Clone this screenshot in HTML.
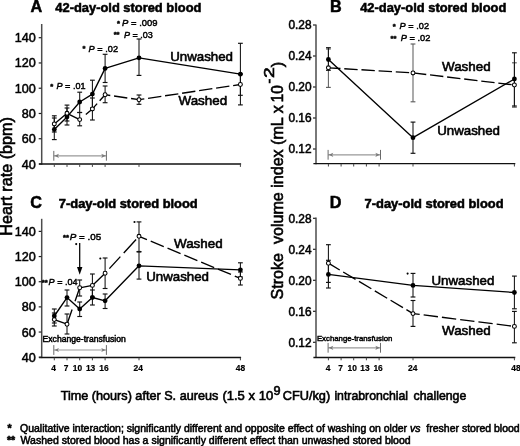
<!DOCTYPE html>
<html><head><meta charset="utf-8"><title>Figure</title>
<style>
html,body{margin:0;padding:0;background:#fff;}
body{width:520px;height:446px;overflow:hidden;}
svg{display:block;font-family:"Liberation Sans", sans-serif;filter:grayscale(1);}
svg text{white-space:pre;}
</style></head><body>
<svg width="520" height="446" viewBox="0 0 520 446">
<rect width="520" height="446" fill="#fff"/>
<line x1="41.70" y1="24.00" x2="41.70" y2="164.70" stroke="#4d4d4d" stroke-width="1.5" /><line x1="39.10" y1="164.00" x2="241.10" y2="164.00" stroke="#111" stroke-width="1.45" /><line x1="38.70" y1="164.00" x2="41.40" y2="164.00" stroke="#222" stroke-width="1.2" /><text x="35.80" y="168.53" font-size="12.6" text-anchor="end" font-weight="normal" font-style="normal" fill="#000" stroke="#000" stroke-width="0.5" >40</text><line x1="38.70" y1="138.74" x2="41.40" y2="138.74" stroke="#222" stroke-width="1.2" /><text x="35.80" y="143.27" font-size="12.6" text-anchor="end" font-weight="normal" font-style="normal" fill="#000" stroke="#000" stroke-width="0.5" >60</text><line x1="38.70" y1="113.48" x2="41.40" y2="113.48" stroke="#222" stroke-width="1.2" /><text x="35.80" y="118.01" font-size="12.6" text-anchor="end" font-weight="normal" font-style="normal" fill="#000" stroke="#000" stroke-width="0.5" >80</text><line x1="38.70" y1="88.22" x2="41.40" y2="88.22" stroke="#222" stroke-width="1.2" /><text x="35.80" y="92.75" font-size="12.6" text-anchor="end" font-weight="normal" font-style="normal" fill="#000" stroke="#000" stroke-width="0.5" >100</text><line x1="38.70" y1="62.96" x2="41.40" y2="62.96" stroke="#222" stroke-width="1.2" /><text x="35.80" y="67.49" font-size="12.6" text-anchor="end" font-weight="normal" font-style="normal" fill="#000" stroke="#000" stroke-width="0.5" >120</text><line x1="38.70" y1="37.70" x2="41.40" y2="37.70" stroke="#222" stroke-width="1.2" /><text x="35.80" y="42.23" font-size="12.6" text-anchor="end" font-weight="normal" font-style="normal" fill="#000" stroke="#000" stroke-width="0.5" >140</text><line x1="54.30" y1="164.30" x2="54.30" y2="166.90" stroke="#444" stroke-width="1.0" /><line x1="67.00" y1="164.30" x2="67.00" y2="166.90" stroke="#444" stroke-width="1.0" /><line x1="79.70" y1="164.30" x2="79.70" y2="166.90" stroke="#444" stroke-width="1.0" /><line x1="92.40" y1="164.30" x2="92.40" y2="166.90" stroke="#444" stroke-width="1.0" /><line x1="105.10" y1="164.30" x2="105.10" y2="166.90" stroke="#444" stroke-width="1.0" /><line x1="139.00" y1="164.30" x2="139.00" y2="166.90" stroke="#444" stroke-width="1.0" /><line x1="240.40" y1="164.30" x2="240.40" y2="166.90" stroke="#444" stroke-width="1.0" />
<line x1="54.30" y1="115.80" x2="54.30" y2="132.00" stroke="#111" stroke-width="1.05" /><line x1="51.90" y1="115.80" x2="56.70" y2="115.80" stroke="#111" stroke-width="1.1500000000000001" /><line x1="51.90" y1="132.00" x2="56.70" y2="132.00" stroke="#111" stroke-width="1.1500000000000001" /><line x1="67.00" y1="105.10" x2="67.00" y2="121.00" stroke="#111" stroke-width="1.05" /><line x1="64.60" y1="105.10" x2="69.40" y2="105.10" stroke="#111" stroke-width="1.1500000000000001" /><line x1="64.60" y1="121.00" x2="69.40" y2="121.00" stroke="#111" stroke-width="1.1500000000000001" /><line x1="79.70" y1="112.50" x2="79.70" y2="125.80" stroke="#111" stroke-width="1.05" /><line x1="77.30" y1="112.50" x2="82.10" y2="112.50" stroke="#111" stroke-width="1.1500000000000001" /><line x1="77.30" y1="125.80" x2="82.10" y2="125.80" stroke="#111" stroke-width="1.1500000000000001" /><line x1="92.40" y1="98.00" x2="92.40" y2="120.00" stroke="#111" stroke-width="1.05" /><line x1="90.00" y1="98.00" x2="94.80" y2="98.00" stroke="#111" stroke-width="1.1500000000000001" /><line x1="90.00" y1="120.00" x2="94.80" y2="120.00" stroke="#111" stroke-width="1.1500000000000001" /><line x1="105.10" y1="86.00" x2="105.10" y2="102.70" stroke="#111" stroke-width="1.05" /><line x1="102.70" y1="86.00" x2="107.50" y2="86.00" stroke="#111" stroke-width="1.1500000000000001" /><line x1="102.70" y1="102.70" x2="107.50" y2="102.70" stroke="#111" stroke-width="1.1500000000000001" /><line x1="139.00" y1="95.00" x2="139.00" y2="104.30" stroke="#111" stroke-width="1.05" /><line x1="136.60" y1="95.00" x2="141.40" y2="95.00" stroke="#111" stroke-width="1.1500000000000001" /><line x1="136.60" y1="104.30" x2="141.40" y2="104.30" stroke="#111" stroke-width="1.1500000000000001" /><line x1="240.40" y1="73.70" x2="240.40" y2="95.30" stroke="#111" stroke-width="1.05" /><line x1="238.00" y1="73.70" x2="242.80" y2="73.70" stroke="#111" stroke-width="1.1500000000000001" /><line x1="238.00" y1="95.30" x2="242.80" y2="95.30" stroke="#111" stroke-width="1.1500000000000001" /><line x1="54.30" y1="118.00" x2="54.30" y2="139.60" stroke="#111" stroke-width="1.05" /><line x1="51.90" y1="118.00" x2="56.70" y2="118.00" stroke="#111" stroke-width="1.1500000000000001" /><line x1="51.90" y1="139.60" x2="56.70" y2="139.60" stroke="#111" stroke-width="1.1500000000000001" /><line x1="67.00" y1="108.00" x2="67.00" y2="125.00" stroke="#111" stroke-width="1.05" /><line x1="64.60" y1="108.00" x2="69.40" y2="108.00" stroke="#111" stroke-width="1.1500000000000001" /><line x1="64.60" y1="125.00" x2="69.40" y2="125.00" stroke="#111" stroke-width="1.1500000000000001" /><line x1="79.70" y1="92.20" x2="79.70" y2="112.50" stroke="#111" stroke-width="1.05" /><line x1="77.30" y1="92.20" x2="82.10" y2="92.20" stroke="#111" stroke-width="1.1500000000000001" /><line x1="77.30" y1="112.50" x2="82.10" y2="112.50" stroke="#111" stroke-width="1.1500000000000001" /><line x1="92.40" y1="80.20" x2="92.40" y2="108.00" stroke="#111" stroke-width="1.05" /><line x1="90.00" y1="80.20" x2="94.80" y2="80.20" stroke="#111" stroke-width="1.1500000000000001" /><line x1="90.00" y1="108.00" x2="94.80" y2="108.00" stroke="#111" stroke-width="1.1500000000000001" /><line x1="105.10" y1="54.30" x2="105.10" y2="82.50" stroke="#111" stroke-width="1.05" /><line x1="102.70" y1="54.30" x2="107.50" y2="54.30" stroke="#111" stroke-width="1.1500000000000001" /><line x1="102.70" y1="82.50" x2="107.50" y2="82.50" stroke="#111" stroke-width="1.1500000000000001" /><line x1="139.00" y1="39.00" x2="139.00" y2="75.40" stroke="#111" stroke-width="1.05" /><line x1="136.60" y1="39.00" x2="141.40" y2="39.00" stroke="#111" stroke-width="1.1500000000000001" /><line x1="136.60" y1="75.40" x2="141.40" y2="75.40" stroke="#111" stroke-width="1.1500000000000001" /><line x1="240.40" y1="43.30" x2="240.40" y2="104.90" stroke="#111" stroke-width="1.05" /><line x1="238.00" y1="43.30" x2="242.80" y2="43.30" stroke="#111" stroke-width="1.1500000000000001" /><line x1="238.00" y1="104.90" x2="242.80" y2="104.90" stroke="#111" stroke-width="1.1500000000000001" /><polyline points="54.30,129.40 67.00,116.90 79.70,102.00 92.40,94.10 105.10,68.40 139.00,57.80 240.40,74.20" fill="none" stroke="#000" stroke-width="1.35" stroke-linejoin="round"/><polyline points="54.30,123.90 67.00,113.30 79.70,119.60" fill="none" stroke="#000" stroke-width="1.35" stroke-linejoin="round"/><polyline points="79.70,119.60 92.40,108.90 105.10,94.70 139.00,99.70 240.40,84.50" fill="none" stroke="#000" stroke-width="1.35" stroke-linejoin="round" stroke-dasharray="0 8 15.7 3.8 13.4 3.8 13.4 3.8 13.4 3.8 13.4 3.8 13.4 3.8 13.4 3.8 13.4 3.8 13.4 3.8 13.4 3.8 13.4 3.8 13.4 3.8 13.4 3.8"/><circle cx="54.30" cy="129.40" r="2.4" fill="#000"/><circle cx="67.00" cy="116.90" r="2.4" fill="#000"/><circle cx="79.70" cy="102.00" r="2.4" fill="#000"/><circle cx="92.40" cy="94.10" r="2.4" fill="#000"/><circle cx="105.10" cy="68.40" r="2.4" fill="#000"/><circle cx="139.00" cy="57.80" r="2.4" fill="#000"/><circle cx="240.40" cy="74.20" r="2.4" fill="#000"/><circle cx="54.30" cy="123.90" r="1.95" fill="#fff" stroke="#000" stroke-width="1.05"/><circle cx="67.00" cy="113.30" r="1.95" fill="#fff" stroke="#000" stroke-width="1.05"/><circle cx="79.70" cy="119.60" r="1.95" fill="#fff" stroke="#000" stroke-width="1.05"/><circle cx="92.40" cy="108.90" r="1.95" fill="#fff" stroke="#000" stroke-width="1.05"/><circle cx="105.10" cy="94.70" r="1.95" fill="#fff" stroke="#000" stroke-width="1.05"/><circle cx="139.00" cy="99.70" r="1.95" fill="#fff" stroke="#000" stroke-width="1.05"/><circle cx="240.40" cy="84.50" r="1.95" fill="#fff" stroke="#000" stroke-width="1.05"/>
<line x1="53.80" y1="155.80" x2="106.40" y2="155.80" stroke="#999" stroke-width="1.15" /><line x1="53.80" y1="150.90" x2="53.80" y2="160.70" stroke="#6a6a6a" stroke-width="1.0" /><line x1="106.40" y1="150.90" x2="106.40" y2="160.70" stroke="#6a6a6a" stroke-width="1.0" /><polygon points="54.40,155.80 59.00,153.70 57.80,155.80 59.00,157.90" fill="#7a7a7a"/><polygon points="105.80,155.80 101.20,153.70 102.40,155.80 101.20,157.90" fill="#7a7a7a"/>
<text x="30.60" y="12.10" font-size="16.2" text-anchor="start" font-weight="bold" font-style="normal" fill="#000" stroke="#000" stroke-width="0.5" >A</text>
<text x="55.30" y="12.30" font-size="12.9" text-anchor="start" font-weight="bold" font-style="normal" fill="#000" stroke="#000" stroke-width="0.55" >42-day-old stored blood</text>
<text x="170.20" y="61.00" font-size="13.3" text-anchor="start" font-weight="normal" font-style="normal" fill="#000" stroke="#000" stroke-width="0.6" >Unwashed</text>
<text x="178.50" y="104.80" font-size="13.4" text-anchor="start" font-weight="normal" font-style="normal" fill="#000" stroke="#000" stroke-width="0.6" >Washed</text>
<text x="50.20" y="89.00" font-size="7.6" font-weight="bold" fill="#000" stroke="#000" stroke-width="0.45">*</text><text x="56.50" y="89.30" font-size="9.4" fill="#000" stroke="#000" stroke-width="0.45" textLength="29.00" lengthAdjust="spacingAndGlyphs"><tspan font-style="italic">P</tspan> = .01</text>
<text x="82.40" y="51.20" font-size="7.6" font-weight="bold" fill="#000" stroke="#000" stroke-width="0.45">*</text><text x="88.60" y="51.50" font-size="9.4" fill="#000" stroke="#000" stroke-width="0.45" textLength="29.40" lengthAdjust="spacingAndGlyphs"><tspan font-style="italic">P</tspan> = .02</text>
<text x="117.10" y="25.80" font-size="7.6" font-weight="bold" fill="#000" stroke="#000" stroke-width="0.45">*</text><text x="122.10" y="26.10" font-size="9.4" fill="#000" stroke="#000" stroke-width="0.45" textLength="35.40" lengthAdjust="spacingAndGlyphs"><tspan font-style="italic">P</tspan> = .009</text>
<text x="113.65" y="37.35" font-size="7.6" font-weight="bold" fill="#000" stroke="#000" stroke-width="0.45">**</text><text x="124.00" y="37.65" font-size="9.4" fill="#000" stroke="#000" stroke-width="0.45" textLength="28.90" lengthAdjust="spacingAndGlyphs"><tspan font-style="italic">P</tspan> = .03</text>
<line x1="316.00" y1="24.40" x2="316.00" y2="164.30" stroke="#4d4d4d" stroke-width="1.5" /><line x1="313.40" y1="163.60" x2="515.30" y2="163.60" stroke="#111" stroke-width="1.45" /><line x1="313.00" y1="149.00" x2="315.70" y2="149.00" stroke="#222" stroke-width="1.2" /><text x="311.60" y="153.28" font-size="11.9" text-anchor="end" font-weight="normal" font-style="normal" fill="#000" stroke="#000" stroke-width="0.5" >0.12</text><line x1="313.00" y1="118.00" x2="315.70" y2="118.00" stroke="#222" stroke-width="1.2" /><text x="311.60" y="122.28" font-size="11.9" text-anchor="end" font-weight="normal" font-style="normal" fill="#000" stroke="#000" stroke-width="0.5" >0.16</text><line x1="313.00" y1="87.00" x2="315.70" y2="87.00" stroke="#222" stroke-width="1.2" /><text x="311.60" y="91.28" font-size="11.9" text-anchor="end" font-weight="normal" font-style="normal" fill="#000" stroke="#000" stroke-width="0.5" >0.20</text><line x1="313.00" y1="56.00" x2="315.70" y2="56.00" stroke="#222" stroke-width="1.2" /><text x="311.60" y="60.28" font-size="11.9" text-anchor="end" font-weight="normal" font-style="normal" fill="#000" stroke="#000" stroke-width="0.5" >0.24</text><line x1="313.00" y1="25.00" x2="315.70" y2="25.00" stroke="#222" stroke-width="1.2" /><text x="311.60" y="29.28" font-size="11.9" text-anchor="end" font-weight="normal" font-style="normal" fill="#000" stroke="#000" stroke-width="0.5" >0.28</text><line x1="328.40" y1="163.90" x2="328.40" y2="166.50" stroke="#444" stroke-width="1.0" /><line x1="341.10" y1="163.90" x2="341.10" y2="166.50" stroke="#444" stroke-width="1.0" /><line x1="353.70" y1="163.90" x2="353.70" y2="166.50" stroke="#444" stroke-width="1.0" /><line x1="366.40" y1="163.90" x2="366.40" y2="166.50" stroke="#444" stroke-width="1.0" /><line x1="379.10" y1="163.90" x2="379.10" y2="166.50" stroke="#444" stroke-width="1.0" /><line x1="413.00" y1="163.90" x2="413.00" y2="166.50" stroke="#444" stroke-width="1.0" /><line x1="514.40" y1="163.90" x2="514.40" y2="166.50" stroke="#444" stroke-width="1.0" />
<line x1="328.40" y1="49.00" x2="328.40" y2="87.40" stroke="#5e5e5e" stroke-width="1.05" /><line x1="326.00" y1="49.00" x2="330.80" y2="49.00" stroke="#5e5e5e" stroke-width="1.1500000000000001" /><line x1="326.00" y1="87.40" x2="330.80" y2="87.40" stroke="#5e5e5e" stroke-width="1.1500000000000001" /><line x1="413.00" y1="44.00" x2="413.00" y2="101.80" stroke="#5e5e5e" stroke-width="1.05" /><line x1="410.60" y1="44.00" x2="415.40" y2="44.00" stroke="#5e5e5e" stroke-width="1.1500000000000001" /><line x1="410.60" y1="101.80" x2="415.40" y2="101.80" stroke="#5e5e5e" stroke-width="1.1500000000000001" /><line x1="514.40" y1="62.80" x2="514.40" y2="107.20" stroke="#5e5e5e" stroke-width="1.05" /><line x1="512.00" y1="62.80" x2="516.80" y2="62.80" stroke="#5e5e5e" stroke-width="1.1500000000000001" /><line x1="512.00" y1="107.20" x2="516.80" y2="107.20" stroke="#5e5e5e" stroke-width="1.1500000000000001" /><line x1="328.40" y1="47.70" x2="328.40" y2="70.30" stroke="#111" stroke-width="1.05" /><line x1="326.00" y1="47.70" x2="330.80" y2="47.70" stroke="#111" stroke-width="1.1500000000000001" /><line x1="326.00" y1="70.30" x2="330.80" y2="70.30" stroke="#111" stroke-width="1.1500000000000001" /><line x1="413.00" y1="122.10" x2="413.00" y2="153.30" stroke="#111" stroke-width="1.05" /><line x1="410.60" y1="122.10" x2="415.40" y2="122.10" stroke="#111" stroke-width="1.1500000000000001" /><line x1="410.60" y1="153.30" x2="415.40" y2="153.30" stroke="#111" stroke-width="1.1500000000000001" /><line x1="514.40" y1="52.80" x2="514.40" y2="106.00" stroke="#111" stroke-width="1.05" /><line x1="512.00" y1="52.80" x2="516.80" y2="52.80" stroke="#111" stroke-width="1.1500000000000001" /><line x1="512.00" y1="106.00" x2="516.80" y2="106.00" stroke="#111" stroke-width="1.1500000000000001" /><polyline points="328.40,59.50 413.00,137.70 514.40,79.00" fill="none" stroke="#000" stroke-width="1.35" stroke-linejoin="round"/><polyline points="328.40,67.80 413.00,72.90 514.40,85.00" fill="none" stroke="#000" stroke-width="1.35" stroke-linejoin="round" stroke-dasharray="13.4 3.8" stroke-dashoffset="1.3"/><circle cx="328.40" cy="59.50" r="2.4" fill="#000"/><circle cx="413.00" cy="137.70" r="2.4" fill="#000"/><circle cx="514.40" cy="79.00" r="2.4" fill="#000"/><circle cx="328.40" cy="67.80" r="1.95" fill="#fff" stroke="#000" stroke-width="1.05"/><circle cx="413.00" cy="72.90" r="1.95" fill="#fff" stroke="#000" stroke-width="1.05"/><circle cx="514.40" cy="85.00" r="1.95" fill="#fff" stroke="#000" stroke-width="1.05"/>
<line x1="328.10" y1="154.80" x2="380.50" y2="154.80" stroke="#999" stroke-width="1.15" /><line x1="328.10" y1="149.90" x2="328.10" y2="159.70" stroke="#6a6a6a" stroke-width="1.0" /><line x1="380.50" y1="149.90" x2="380.50" y2="159.70" stroke="#6a6a6a" stroke-width="1.0" /><polygon points="328.70,154.80 333.30,152.70 332.10,154.80 333.30,156.90" fill="#7a7a7a"/><polygon points="379.90,154.80 375.30,152.70 376.50,154.80 375.30,156.90" fill="#7a7a7a"/>
<text x="330.00" y="12.10" font-size="16.2" text-anchor="start" font-weight="bold" font-style="normal" fill="#000" stroke="#000" stroke-width="0.5" >B</text>
<text x="360.20" y="12.30" font-size="12.9" text-anchor="start" font-weight="bold" font-style="normal" fill="#000" stroke="#000" stroke-width="0.55" >42-day-old stored blood</text>
<text x="442.00" y="71.00" font-size="13.4" text-anchor="start" font-weight="normal" font-style="normal" fill="#000" stroke="#000" stroke-width="0.6" >Washed</text>
<text x="437.20" y="134.70" font-size="13.3" text-anchor="start" font-weight="normal" font-style="normal" fill="#000" stroke="#000" stroke-width="0.6" >Unwashed</text>
<text x="392.70" y="28.70" font-size="7.6" font-weight="bold" fill="#000" stroke="#000" stroke-width="0.45">*</text><text x="399.60" y="29.00" font-size="9.4" fill="#000" stroke="#000" stroke-width="0.45" textLength="29.40" lengthAdjust="spacingAndGlyphs"><tspan font-style="italic">P</tspan> = .02</text>
<text x="390.60" y="40.80" font-size="7.6" font-weight="bold" fill="#000" stroke="#000" stroke-width="0.45">**</text><text x="400.80" y="41.10" font-size="9.4" fill="#000" stroke="#000" stroke-width="0.45" textLength="29.60" lengthAdjust="spacingAndGlyphs"><tspan font-style="italic">P</tspan> = .02</text>
<line x1="41.70" y1="218.80" x2="41.70" y2="358.10" stroke="#4d4d4d" stroke-width="1.5" /><line x1="39.10" y1="357.40" x2="241.10" y2="357.40" stroke="#111" stroke-width="1.45" /><line x1="38.70" y1="357.20" x2="41.40" y2="357.20" stroke="#222" stroke-width="1.2" /><text x="35.80" y="361.73" font-size="12.6" text-anchor="end" font-weight="normal" font-style="normal" fill="#000" stroke="#000" stroke-width="0.5" >40</text><line x1="38.70" y1="332.04" x2="41.40" y2="332.04" stroke="#222" stroke-width="1.2" /><text x="35.80" y="336.57" font-size="12.6" text-anchor="end" font-weight="normal" font-style="normal" fill="#000" stroke="#000" stroke-width="0.5" >60</text><line x1="38.70" y1="306.88" x2="41.40" y2="306.88" stroke="#222" stroke-width="1.2" /><text x="35.80" y="311.41" font-size="12.6" text-anchor="end" font-weight="normal" font-style="normal" fill="#000" stroke="#000" stroke-width="0.5" >80</text><line x1="38.70" y1="281.72" x2="41.40" y2="281.72" stroke="#222" stroke-width="1.2" /><text x="35.80" y="286.25" font-size="12.6" text-anchor="end" font-weight="normal" font-style="normal" fill="#000" stroke="#000" stroke-width="0.5" >100</text><line x1="38.70" y1="256.56" x2="41.40" y2="256.56" stroke="#222" stroke-width="1.2" /><text x="35.80" y="261.09" font-size="12.6" text-anchor="end" font-weight="normal" font-style="normal" fill="#000" stroke="#000" stroke-width="0.5" >120</text><line x1="38.70" y1="231.40" x2="41.40" y2="231.40" stroke="#222" stroke-width="1.2" /><text x="35.80" y="235.93" font-size="12.6" text-anchor="end" font-weight="normal" font-style="normal" fill="#000" stroke="#000" stroke-width="0.5" >140</text><line x1="54.30" y1="357.70" x2="54.30" y2="360.30" stroke="#444" stroke-width="1.0" /><line x1="67.00" y1="357.70" x2="67.00" y2="360.30" stroke="#444" stroke-width="1.0" /><line x1="79.70" y1="357.70" x2="79.70" y2="360.30" stroke="#444" stroke-width="1.0" /><line x1="92.40" y1="357.70" x2="92.40" y2="360.30" stroke="#444" stroke-width="1.0" /><line x1="105.10" y1="357.70" x2="105.10" y2="360.30" stroke="#444" stroke-width="1.0" /><line x1="139.00" y1="357.70" x2="139.00" y2="360.30" stroke="#444" stroke-width="1.0" /><line x1="240.40" y1="357.70" x2="240.40" y2="360.30" stroke="#444" stroke-width="1.0" />
<line x1="54.30" y1="313.00" x2="54.30" y2="326.00" stroke="#111" stroke-width="1.05" /><line x1="51.90" y1="313.00" x2="56.70" y2="313.00" stroke="#111" stroke-width="1.1500000000000001" /><line x1="51.90" y1="326.00" x2="56.70" y2="326.00" stroke="#111" stroke-width="1.1500000000000001" /><line x1="67.00" y1="314.00" x2="67.00" y2="334.00" stroke="#111" stroke-width="1.05" /><line x1="64.60" y1="314.00" x2="69.40" y2="314.00" stroke="#111" stroke-width="1.1500000000000001" /><line x1="64.60" y1="334.00" x2="69.40" y2="334.00" stroke="#111" stroke-width="1.1500000000000001" /><line x1="79.70" y1="280.00" x2="79.70" y2="296.00" stroke="#111" stroke-width="1.05" /><line x1="77.30" y1="280.00" x2="82.10" y2="280.00" stroke="#111" stroke-width="1.1500000000000001" /><line x1="77.30" y1="296.00" x2="82.10" y2="296.00" stroke="#111" stroke-width="1.1500000000000001" /><line x1="92.40" y1="274.00" x2="92.40" y2="297.00" stroke="#111" stroke-width="1.05" /><line x1="90.00" y1="274.00" x2="94.80" y2="274.00" stroke="#111" stroke-width="1.1500000000000001" /><line x1="90.00" y1="297.00" x2="94.80" y2="297.00" stroke="#111" stroke-width="1.1500000000000001" /><line x1="105.10" y1="258.00" x2="105.10" y2="288.50" stroke="#111" stroke-width="1.05" /><line x1="102.70" y1="258.00" x2="107.50" y2="258.00" stroke="#111" stroke-width="1.1500000000000001" /><line x1="102.70" y1="288.50" x2="107.50" y2="288.50" stroke="#111" stroke-width="1.1500000000000001" /><line x1="139.00" y1="221.90" x2="139.00" y2="251.50" stroke="#111" stroke-width="1.05" /><line x1="136.60" y1="221.90" x2="141.40" y2="221.90" stroke="#111" stroke-width="1.1500000000000001" /><line x1="136.60" y1="251.50" x2="141.40" y2="251.50" stroke="#111" stroke-width="1.1500000000000001" /><line x1="240.40" y1="272.00" x2="240.40" y2="285.00" stroke="#111" stroke-width="1.05" /><line x1="238.00" y1="272.00" x2="242.80" y2="272.00" stroke="#111" stroke-width="1.1500000000000001" /><line x1="238.00" y1="285.00" x2="242.80" y2="285.00" stroke="#111" stroke-width="1.1500000000000001" /><line x1="54.30" y1="309.00" x2="54.30" y2="323.00" stroke="#111" stroke-width="1.05" /><line x1="51.90" y1="309.00" x2="56.70" y2="309.00" stroke="#111" stroke-width="1.1500000000000001" /><line x1="51.90" y1="323.00" x2="56.70" y2="323.00" stroke="#111" stroke-width="1.1500000000000001" /><line x1="67.00" y1="290.00" x2="67.00" y2="306.00" stroke="#111" stroke-width="1.05" /><line x1="64.60" y1="290.00" x2="69.40" y2="290.00" stroke="#111" stroke-width="1.1500000000000001" /><line x1="64.60" y1="306.00" x2="69.40" y2="306.00" stroke="#111" stroke-width="1.1500000000000001" /><line x1="79.70" y1="302.00" x2="79.70" y2="316.50" stroke="#111" stroke-width="1.05" /><line x1="77.30" y1="302.00" x2="82.10" y2="302.00" stroke="#111" stroke-width="1.1500000000000001" /><line x1="77.30" y1="316.50" x2="82.10" y2="316.50" stroke="#111" stroke-width="1.1500000000000001" /><line x1="92.40" y1="290.00" x2="92.40" y2="305.00" stroke="#111" stroke-width="1.05" /><line x1="90.00" y1="290.00" x2="94.80" y2="290.00" stroke="#111" stroke-width="1.1500000000000001" /><line x1="90.00" y1="305.00" x2="94.80" y2="305.00" stroke="#111" stroke-width="1.1500000000000001" /><line x1="105.10" y1="294.00" x2="105.10" y2="308.50" stroke="#111" stroke-width="1.05" /><line x1="102.70" y1="294.00" x2="107.50" y2="294.00" stroke="#111" stroke-width="1.1500000000000001" /><line x1="102.70" y1="308.50" x2="107.50" y2="308.50" stroke="#111" stroke-width="1.1500000000000001" /><line x1="139.00" y1="252.00" x2="139.00" y2="279.10" stroke="#111" stroke-width="1.05" /><line x1="136.60" y1="252.00" x2="141.40" y2="252.00" stroke="#111" stroke-width="1.1500000000000001" /><line x1="136.60" y1="279.10" x2="141.40" y2="279.10" stroke="#111" stroke-width="1.1500000000000001" /><line x1="240.40" y1="262.80" x2="240.40" y2="277.00" stroke="#111" stroke-width="1.05" /><line x1="238.00" y1="262.80" x2="242.80" y2="262.80" stroke="#111" stroke-width="1.1500000000000001" /><line x1="238.00" y1="277.00" x2="242.80" y2="277.00" stroke="#111" stroke-width="1.1500000000000001" /><polyline points="54.30,316.00 67.00,297.60 79.70,309.00 92.40,297.50 105.10,300.80 139.00,265.80 240.40,269.80" fill="none" stroke="#000" stroke-width="1.35" stroke-linejoin="round"/><polyline points="54.30,319.60 67.00,324.20" fill="none" stroke="#000" stroke-width="1.35" stroke-linejoin="round"/><polyline points="67.00,324.20 79.70,287.80" fill="none" stroke="#000" stroke-width="1.35" stroke-linejoin="round" stroke-dasharray="15.5 8.9 14.5 0"/><polyline points="79.70,287.80 92.40,285.40 105.10,273.30" fill="none" stroke="#000" stroke-width="1.35" stroke-linejoin="round"/><polyline points="105.10,273.30 139.00,236.30" fill="none" stroke="#000" stroke-width="1.35" stroke-linejoin="round" stroke-dasharray="0 6.3 16.3 5 18.3 4.5"/><polyline points="139.00,236.30 240.40,278.40" fill="none" stroke="#000" stroke-width="1.35" stroke-linejoin="round" stroke-dasharray="14.1 4.1" stroke-dashoffset="5.5"/><circle cx="54.30" cy="316.00" r="2.4" fill="#000"/><circle cx="67.00" cy="297.60" r="2.4" fill="#000"/><circle cx="79.70" cy="309.00" r="2.4" fill="#000"/><circle cx="92.40" cy="297.50" r="2.4" fill="#000"/><circle cx="105.10" cy="300.80" r="2.4" fill="#000"/><circle cx="139.00" cy="265.80" r="2.4" fill="#000"/><circle cx="240.40" cy="269.80" r="2.4" fill="#000"/><circle cx="54.30" cy="319.60" r="1.95" fill="#fff" stroke="#000" stroke-width="1.05"/><circle cx="67.00" cy="324.20" r="1.95" fill="#fff" stroke="#000" stroke-width="1.05"/><circle cx="79.70" cy="287.80" r="1.95" fill="#fff" stroke="#000" stroke-width="1.05"/><circle cx="92.40" cy="285.40" r="1.95" fill="#fff" stroke="#000" stroke-width="1.05"/><circle cx="105.10" cy="273.30" r="1.95" fill="#fff" stroke="#000" stroke-width="1.05"/><circle cx="139.00" cy="236.30" r="1.95" fill="#fff" stroke="#000" stroke-width="1.05"/><circle cx="240.40" cy="278.40" r="1.95" fill="#fff" stroke="#000" stroke-width="1.05"/>
<line x1="53.80" y1="350.00" x2="106.40" y2="350.00" stroke="#999" stroke-width="1.15" /><line x1="53.80" y1="345.10" x2="53.80" y2="354.90" stroke="#6a6a6a" stroke-width="1.0" /><line x1="106.40" y1="345.10" x2="106.40" y2="354.90" stroke="#6a6a6a" stroke-width="1.0" /><polygon points="54.40,350.00 59.00,347.90 57.80,350.00 59.00,352.10" fill="#7a7a7a"/><polygon points="105.80,350.00 101.20,347.90 102.40,350.00 101.20,352.10" fill="#7a7a7a"/>
<text x="30.30" y="207.70" font-size="16.2" text-anchor="start" font-weight="bold" font-style="normal" fill="#000" stroke="#000" stroke-width="0.5" >C</text>
<text x="58.80" y="207.90" font-size="12.9" text-anchor="start" font-weight="bold" font-style="normal" fill="#000" stroke="#000" stroke-width="0.55" >7-day-old stored blood</text>
<text x="174.00" y="247.70" font-size="13.4" text-anchor="start" font-weight="normal" font-style="normal" fill="#000" stroke="#000" stroke-width="0.6" >Washed</text>
<text x="146.20" y="281.30" font-size="13.3" text-anchor="start" font-weight="normal" font-style="normal" fill="#000" stroke="#000" stroke-width="0.6" >Unwashed</text>
<text x="42.60" y="341.50" font-size="8.6" text-anchor="start" font-weight="normal" font-style="normal" fill="#000" stroke="#000" stroke-width="0.5" >Exchange-transfusion</text>
<text x="53.70" y="370.90" font-size="8.4" text-anchor="middle" font-weight="bold" font-style="normal" fill="#000" stroke="#000" stroke-width="0.2" >4</text>
<text x="66.10" y="370.90" font-size="8.4" text-anchor="middle" font-weight="bold" font-style="normal" fill="#000" stroke="#000" stroke-width="0.2" >7</text>
<text x="77.50" y="370.90" font-size="8.4" text-anchor="middle" font-weight="bold" font-style="normal" fill="#000" stroke="#000" stroke-width="0.2" >10</text>
<text x="90.60" y="370.90" font-size="8.4" text-anchor="middle" font-weight="bold" font-style="normal" fill="#000" stroke="#000" stroke-width="0.2" >13</text>
<text x="103.90" y="370.90" font-size="8.4" text-anchor="middle" font-weight="bold" font-style="normal" fill="#000" stroke="#000" stroke-width="0.2" >16</text>
<text x="138.20" y="370.90" font-size="8.4" text-anchor="middle" font-weight="bold" font-style="normal" fill="#000" stroke="#000" stroke-width="0.2" >24</text>
<text x="240.50" y="370.90" font-size="8.4" text-anchor="middle" font-weight="bold" font-style="normal" fill="#000" stroke="#000" stroke-width="0.2" >48</text>
<text x="63.00" y="239.50" font-size="7.6" font-weight="bold" fill="#000" stroke="#000" stroke-width="0.45">**</text><text x="69.80" y="239.80" font-size="9.4" fill="#000" stroke="#000" stroke-width="0.45" textLength="31.40" lengthAdjust="spacingAndGlyphs"><tspan font-style="italic">P</tspan> = .05</text>
<text x="41.70" y="284.50" font-size="7.6" font-weight="bold" fill="#000" stroke="#000" stroke-width="0.45">**</text><text x="48.60" y="284.80" font-size="9.4" fill="#000" stroke="#000" stroke-width="0.45" textLength="29.00" lengthAdjust="spacingAndGlyphs"><tspan font-style="italic">P</tspan> = .04</text>
<line x1="79.70" y1="243.00" x2="79.70" y2="268.50" stroke="#000" stroke-width="1.25" />
<polygon points="77.0,267.0 82.4,267.0 79.7,274.8" fill="#000"/>
<circle cx="76.2" cy="244.1" r="1.05" fill="#000"/>
<circle cx="100.3" cy="258.5" r="1.05" fill="#000"/>
<circle cx="134.5" cy="222" r="1.05" fill="#000"/>
<line x1="316.00" y1="217.60" x2="316.00" y2="358.10" stroke="#4d4d4d" stroke-width="1.5" /><line x1="313.40" y1="357.40" x2="515.30" y2="357.40" stroke="#111" stroke-width="1.45" /><line x1="313.00" y1="342.30" x2="315.70" y2="342.30" stroke="#222" stroke-width="1.2" /><text x="311.60" y="346.58" font-size="11.9" text-anchor="end" font-weight="normal" font-style="normal" fill="#000" stroke="#000" stroke-width="0.5" >0.12</text><line x1="313.00" y1="311.30" x2="315.70" y2="311.30" stroke="#222" stroke-width="1.2" /><text x="311.60" y="315.58" font-size="11.9" text-anchor="end" font-weight="normal" font-style="normal" fill="#000" stroke="#000" stroke-width="0.5" >0.16</text><line x1="313.00" y1="280.30" x2="315.70" y2="280.30" stroke="#222" stroke-width="1.2" /><text x="311.60" y="284.58" font-size="11.9" text-anchor="end" font-weight="normal" font-style="normal" fill="#000" stroke="#000" stroke-width="0.5" >0.20</text><line x1="313.00" y1="249.30" x2="315.70" y2="249.30" stroke="#222" stroke-width="1.2" /><text x="311.60" y="253.58" font-size="11.9" text-anchor="end" font-weight="normal" font-style="normal" fill="#000" stroke="#000" stroke-width="0.5" >0.24</text><line x1="313.00" y1="218.30" x2="315.70" y2="218.30" stroke="#222" stroke-width="1.2" /><text x="311.60" y="222.58" font-size="11.9" text-anchor="end" font-weight="normal" font-style="normal" fill="#000" stroke="#000" stroke-width="0.5" >0.28</text><line x1="328.40" y1="357.70" x2="328.40" y2="360.30" stroke="#444" stroke-width="1.0" /><line x1="341.10" y1="357.70" x2="341.10" y2="360.30" stroke="#444" stroke-width="1.0" /><line x1="353.70" y1="357.70" x2="353.70" y2="360.30" stroke="#444" stroke-width="1.0" /><line x1="366.40" y1="357.70" x2="366.40" y2="360.30" stroke="#444" stroke-width="1.0" /><line x1="379.10" y1="357.70" x2="379.10" y2="360.30" stroke="#444" stroke-width="1.0" /><line x1="413.00" y1="357.70" x2="413.00" y2="360.30" stroke="#444" stroke-width="1.0" /><line x1="514.40" y1="357.70" x2="514.40" y2="360.30" stroke="#444" stroke-width="1.0" />
<line x1="328.40" y1="244.70" x2="328.40" y2="282.40" stroke="#111" stroke-width="1.05" /><line x1="326.00" y1="244.70" x2="330.80" y2="244.70" stroke="#111" stroke-width="1.1500000000000001" /><line x1="326.00" y1="282.40" x2="330.80" y2="282.40" stroke="#111" stroke-width="1.1500000000000001" /><line x1="413.00" y1="300.50" x2="413.00" y2="326.40" stroke="#111" stroke-width="1.05" /><line x1="410.60" y1="300.50" x2="415.40" y2="300.50" stroke="#111" stroke-width="1.1500000000000001" /><line x1="410.60" y1="326.40" x2="415.40" y2="326.40" stroke="#111" stroke-width="1.1500000000000001" /><line x1="514.40" y1="311.40" x2="514.40" y2="342.80" stroke="#111" stroke-width="1.05" /><line x1="512.00" y1="311.40" x2="516.80" y2="311.40" stroke="#111" stroke-width="1.1500000000000001" /><line x1="512.00" y1="342.80" x2="516.80" y2="342.80" stroke="#111" stroke-width="1.1500000000000001" /><line x1="328.40" y1="260.30" x2="328.40" y2="288.00" stroke="#111" stroke-width="1.05" /><line x1="326.00" y1="260.30" x2="330.80" y2="260.30" stroke="#111" stroke-width="1.1500000000000001" /><line x1="326.00" y1="288.00" x2="330.80" y2="288.00" stroke="#111" stroke-width="1.1500000000000001" /><line x1="413.00" y1="273.40" x2="413.00" y2="297.00" stroke="#111" stroke-width="1.05" /><line x1="410.60" y1="273.40" x2="415.40" y2="273.40" stroke="#111" stroke-width="1.1500000000000001" /><line x1="410.60" y1="297.00" x2="415.40" y2="297.00" stroke="#111" stroke-width="1.1500000000000001" /><line x1="514.40" y1="276.10" x2="514.40" y2="308.80" stroke="#111" stroke-width="1.05" /><line x1="512.00" y1="276.10" x2="516.80" y2="276.10" stroke="#111" stroke-width="1.1500000000000001" /><line x1="512.00" y1="308.80" x2="516.80" y2="308.80" stroke="#111" stroke-width="1.1500000000000001" /><polyline points="328.40,274.40 413.00,285.40 514.40,292.50" fill="none" stroke="#000" stroke-width="1.35" stroke-linejoin="round"/><polyline points="328.40,263.20 413.00,313.60 514.40,326.40" fill="none" stroke="#000" stroke-width="1.35" stroke-linejoin="round" stroke-dasharray="14.4 4.0" stroke-dashoffset="1.2"/><circle cx="328.40" cy="274.40" r="2.4" fill="#000"/><circle cx="413.00" cy="285.40" r="2.4" fill="#000"/><circle cx="514.40" cy="292.50" r="2.4" fill="#000"/><circle cx="328.40" cy="263.20" r="1.95" fill="#fff" stroke="#000" stroke-width="1.05"/><circle cx="413.00" cy="313.60" r="1.95" fill="#fff" stroke="#000" stroke-width="1.05"/><circle cx="514.40" cy="326.40" r="1.95" fill="#fff" stroke="#000" stroke-width="1.05"/>
<line x1="328.10" y1="347.80" x2="380.50" y2="347.80" stroke="#999" stroke-width="1.15" /><line x1="328.10" y1="342.90" x2="328.10" y2="352.70" stroke="#6a6a6a" stroke-width="1.0" /><line x1="380.50" y1="342.90" x2="380.50" y2="352.70" stroke="#6a6a6a" stroke-width="1.0" /><polygon points="328.70,347.80 333.30,345.70 332.10,347.80 333.30,349.90" fill="#7a7a7a"/><polygon points="379.90,347.80 375.30,345.70 376.50,347.80 375.30,349.90" fill="#7a7a7a"/>
<text x="329.80" y="207.70" font-size="16.2" text-anchor="start" font-weight="bold" font-style="normal" fill="#000" stroke="#000" stroke-width="0.5" >D</text>
<text x="364.60" y="207.90" font-size="12.9" text-anchor="start" font-weight="bold" font-style="normal" fill="#000" stroke="#000" stroke-width="0.55" >7-day-old stored blood</text>
<text x="431.50" y="284.70" font-size="13.3" text-anchor="start" font-weight="normal" font-style="normal" fill="#000" stroke="#000" stroke-width="0.6" >Unwashed</text>
<text x="442.00" y="335.20" font-size="13.4" text-anchor="start" font-weight="normal" font-style="normal" fill="#000" stroke="#000" stroke-width="0.6" >Washed</text>
<text x="316.90" y="340.70" font-size="7.8" text-anchor="start" font-weight="normal" font-style="normal" fill="#000" stroke="#000" stroke-width="0.45" >Exchange-transfusion</text>
<text x="328.00" y="370.70" font-size="8.4" text-anchor="middle" font-weight="bold" font-style="normal" fill="#000" stroke="#000" stroke-width="0.2" >4</text>
<text x="340.70" y="370.70" font-size="8.4" text-anchor="middle" font-weight="bold" font-style="normal" fill="#000" stroke="#000" stroke-width="0.2" >7</text>
<text x="352.20" y="370.70" font-size="8.4" text-anchor="middle" font-weight="bold" font-style="normal" fill="#000" stroke="#000" stroke-width="0.2" >10</text>
<text x="364.90" y="370.70" font-size="8.4" text-anchor="middle" font-weight="bold" font-style="normal" fill="#000" stroke="#000" stroke-width="0.2" >13</text>
<text x="378.10" y="370.70" font-size="8.4" text-anchor="middle" font-weight="bold" font-style="normal" fill="#000" stroke="#000" stroke-width="0.2" >16</text>
<text x="412.70" y="370.70" font-size="8.4" text-anchor="middle" font-weight="bold" font-style="normal" fill="#000" stroke="#000" stroke-width="0.2" >24</text>
<text x="515.90" y="370.70" font-size="8.4" text-anchor="middle" font-weight="bold" font-style="normal" fill="#000" stroke="#000" stroke-width="0.2" >48</text>
<circle cx="407.6" cy="273.6" r="1.05" fill="#000"/>
<text transform="translate(12.1,235.8) rotate(-90)" font-size="16.2" stroke="#000" stroke-width="0.6">Heart rate (bpm)</text>
<text transform="translate(283.4,299.5) rotate(-90)" font-size="15.9" stroke="#000" stroke-width="0.6" textLength="194.2" lengthAdjust="spacingAndGlyphs">Stroke  volume index (mL x</text>
<text transform="translate(283.4,102.4) rotate(-90)" font-size="15.9" stroke="#000" stroke-width="0.6" textLength="17.2" lengthAdjust="spacingAndGlyphs">10</text>
<text transform="translate(273.9,83.8) rotate(-90)" font-size="15.5" stroke="#000" stroke-width="0.6">-</text>
<text transform="translate(273.9,77.9) rotate(-90) scale(1.25,1)" font-size="15.5" stroke="#000" stroke-width="0.6">2</text>
<text transform="translate(283.4,67.3) rotate(-90)" font-size="16.1" stroke="#000" stroke-width="0.6">)</text>
<text x="60.70" y="399.60" font-size="12.7" stroke="#000" stroke-width="0.6" textLength="157.60" lengthAdjust="spacingAndGlyphs" >Time (hours) after S. aureus</text>
<text x="222.40" y="399.60" font-size="12.7" stroke="#000" stroke-width="0.6" textLength="50.80" lengthAdjust="spacingAndGlyphs" >(1.5 x 10</text>
<text x="273.4" y="394.8" font-size="12.7" stroke="#000" stroke-width="0.6">9</text>
<text x="282.70" y="399.60" font-size="12.7" stroke="#000" stroke-width="0.6" textLength="47.50" lengthAdjust="spacingAndGlyphs" >CFU/kg)</text>
<text x="334.40" y="399.60" font-size="12.7" stroke="#000" stroke-width="0.6" textLength="73.70" lengthAdjust="spacingAndGlyphs" >intrabronchial</text>
<text x="413.60" y="399.60" font-size="12.7" stroke="#000" stroke-width="0.6" textLength="52.70" lengthAdjust="spacingAndGlyphs" >challenge</text>
<text x="7.50" y="432.40" font-size="10.5" text-anchor="start" font-weight="bold" font-style="normal" fill="#000" stroke="#000" stroke-width="0.6" >*</text>
<text x="20" y="432" font-size="10.5" stroke="#000" stroke-width="0.5499999999999999" textLength="499.7" lengthAdjust="spacingAndGlyphs">Qualitative interaction; significantly different and opposite effect of washing on older <tspan font-style="italic">vs</tspan>  fresher stored blood</text>
<text x="7.00" y="443.90" font-size="10.5" text-anchor="start" font-weight="bold" font-style="normal" fill="#000" stroke="#000" stroke-width="0.6" >**</text>
<text x="20.5" y="443.5" font-size="10.5" stroke="#000" stroke-width="0.5499999999999999" textLength="390.2" lengthAdjust="spacingAndGlyphs">Washed stored blood has a significantly different effect than unwashed stored blood</text>
</svg>
</body></html>
